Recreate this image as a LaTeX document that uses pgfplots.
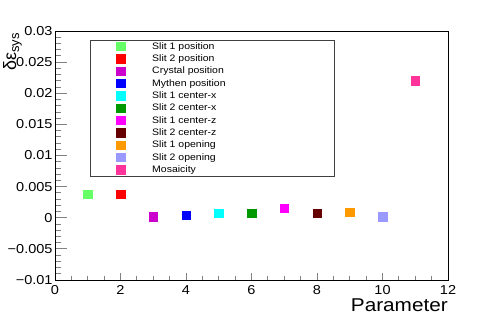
\documentclass[border=0pt]{standalone}
\usepackage{fontspec}
\setmainfont{Liberation Sans}[FakeStretch=1.12]
\newfontfamily\ylabfont{Liberation Sans}
\usepackage{pgfplots}
\pgfplotsset{compat=1.18}
\definecolor{c1}{HTML}{66FF66}
\definecolor{c2}{HTML}{FF0000}
\definecolor{c3}{HTML}{CC00CC}
\definecolor{c4}{HTML}{0000FF}
\definecolor{c5}{HTML}{00FFFF}
\definecolor{c6}{HTML}{009900}
\definecolor{c7}{HTML}{FF00FF}
\definecolor{c8}{HTML}{660000}
\definecolor{c9}{HTML}{FF9900}
\definecolor{c10}{HTML}{9999FF}
\definecolor{c11}{HTML}{FF3399}
\begin{document}
\begin{tikzpicture}
\useasboundingbox (0bp,0bp) rectangle (498bp,318bp);
\begin{axis}[
  at={(55bp,38bp)}, anchor=south west,
  scale only axis, width=393bp, height=249bp,
  xmin=0, xmax=12, ymin=-0.01, ymax=0.03,
  axis line style={line width=0.8bp},
  tick align=inside, tick pos=left,
  scaled y ticks=false, scaled x ticks=false,
  xtick={0,2,...,12}, minor x tick num=3,
  ytick={-0.01,-0.005,0,0.005,0.01,0.015,0.02,0.025,0.03},
  yticklabels={−0.01,−0.005,0,0.005,0.01,0.015,0.02,0.025,0.03},
  minor y tick num=4,
  xtick style={line width=0.8bp,/pgfplots/major tick length=7bp,/pgfplots/minor tick length=3.7bp},
  ytick style={line width=0.8bp,/pgfplots/major tick length=11.7bp,/pgfplots/minor tick length=6bp},
  /pgf/number format/assume math mode=true,
  tick label style={font=\fontsize{13}{14}\selectfont, inner sep=0pt},
  yticklabel style={xshift=-2.3bp},
  xticklabel style={yshift=-5bp},
  legend style={at={(0.0891,0.9639)}, anchor=north west, draw=black!75, line width=0.8bp,
    inner xsep=0pt, inner ysep=0pt, row sep=0pt, column sep=0pt,
    font=\fontsize{9.4}{10}\selectfont, nodes={inner sep=0pt}, cells={anchor=west}},
  legend image code/.code={\fill[#1] (26bp,-4.2bp) rectangle (35bp,4.2bp); \path (0bp,-5.76bp) (61bp,5.76bp);},
  every axis plot/.append style={only marks, mark=square*, mark size=4.2bp},
]
\addplot[color=c1] coordinates {(1,0.0038)};
\addlegendentry{\makebox[182bp][l]{Slit 1 position}}
\addplot[color=c2] coordinates {(2,0.0038)};
\addlegendentry{Slit 2 position}
\addplot[color=c3] coordinates {(3,0.0002)};
\addlegendentry{Crystal position}
\addplot[color=c4] coordinates {(4,0.0004)};
\addlegendentry{Mythen position}
\addplot[color=c5] coordinates {(5,0.0007)};
\addlegendentry{Slit 1 center-x}
\addplot[color=c6] coordinates {(6,0.0007)};
\addlegendentry{Slit 2 center-x}
\addplot[color=c7] coordinates {(7,0.0015)};
\addlegendentry{Slit 1 center-z}
\addplot[color=c8] coordinates {(8,0.0007)};
\addlegendentry{Slit 2 center-z}
\addplot[color=c9] coordinates {(9,0.0009)};
\addlegendentry{Slit 1 opening}
\addplot[color=c10] coordinates {(10,0.0002)};
\addlegendentry{Slit 2 opening}
\addplot[color=c11] coordinates {(11,0.022)};
\addlegendentry{Mosaicity}
\end{axis}
\node[anchor=base east, font=\fontsize{18.6}{20}\selectfont, inner sep=0pt] at (448bp,6.3bp) {Parameter};
\node[rotate=90, anchor=base east, inner sep=0pt, font=\ylabfont\fontsize{18}{20}\selectfont] at (16bp,285bp) {δε\raisebox{-3bp}{\fontsize{13}{14}\selectfont sys}};
\end{tikzpicture}
\end{document}
